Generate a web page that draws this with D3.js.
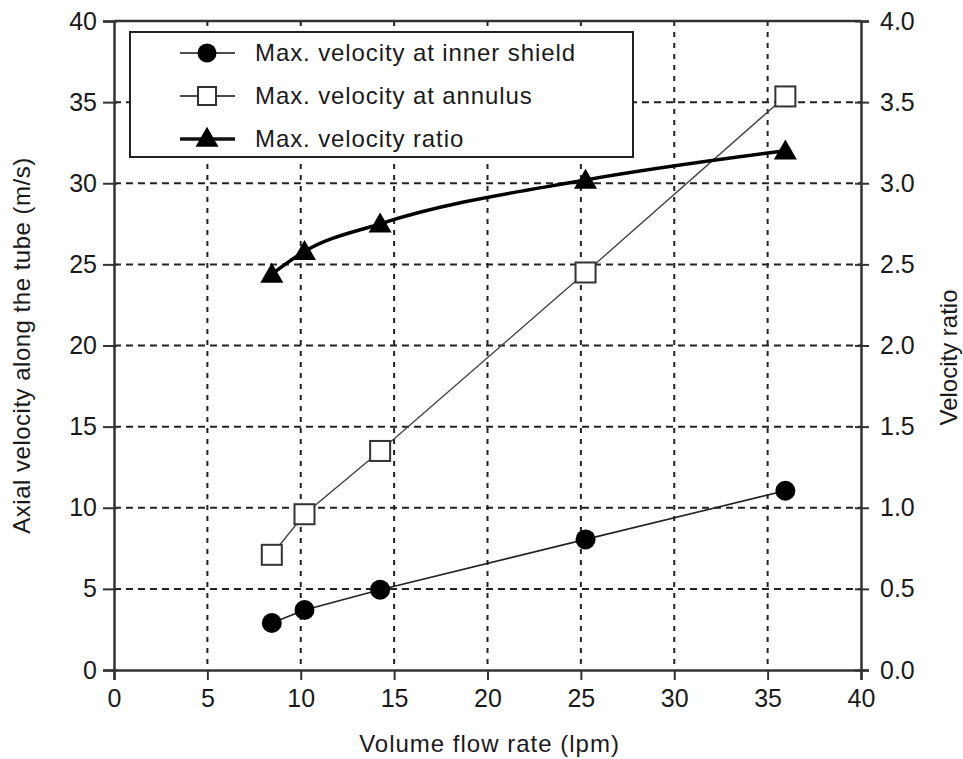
<!DOCTYPE html>
<html>
<head>
<meta charset="utf-8">
<script src="https://cdn.jsdelivr.net/npm/d3@7"></script>
<style>
  body { margin: 0; background: #fff; }
  text { font-family: 'Liberation Sans', Arial, sans-serif; fill: #1a1a1a; }
</style>
</head>
<body>
<svg id="chart" width="963" height="759"></svg>
<script>
const flowRate = [8.45, 10.2, 14.25, 25.25, 35.95]
const innerShield = [2.9, 3.7, 4.95, 8.05, 11.05]
const annulus = [7.1, 9.6, 13.5, 24.5, 35.35]
const ratio = [2.44, 2.58, 2.75, 3.02, 3.2]
const xTicks = [0, 5, 10, 15, 20, 25, 30, 35, 40]
const yTicks = [0, 5, 10, 15, 20, 25, 30, 35, 40]
const y2Ticks = [0, 0.5, 1.0, 1.5, 2.0, 2.5, 3.0, 3.5, 4.0]
const legendLabels = ['Max. velocity at inner shield', 'Max. velocity at annulus', 'Max. velocity ratio']

const margin = { left: 114, right: 102, top: 21, bottom: 89 }
const svg = d3.select('#chart')
const width = +svg.attr('width')
const height = +svg.attr('height')
const innerWidth = width - margin.left - margin.right
const innerHeight = height - margin.top - margin.bottom

const g = svg.append('g')
  .attr('transform', `translate(${margin.left},${margin.top})`)

const x = d3.scaleLinear().domain([0, 40]).range([0, innerWidth])
const y = d3.scaleLinear().domain([0, 40]).range([innerHeight, 0])
const y2 = d3.scaleLinear().domain([0, 4]).range([innerHeight, 0])

// grid
g.selectAll('.hgrid').data(yTicks.slice(1, -1))
  .enter().append('line')
  .attr('x1', 0).attr('x2', innerWidth)
  .attr('y1', d => y(d)).attr('y2', d => y(d))
  .attr('stroke', '#222').attr('stroke-width', 2)
  .attr('stroke-dasharray', '7,5')
g.selectAll('.vgrid').data(xTicks.slice(1, -1))
  .enter().append('line')
  .attr('x1', d => x(d)).attr('x2', d => x(d))
  .attr('y1', 0).attr('y2', innerHeight)
  .attr('stroke', '#222').attr('stroke-width', 2)
  .attr('stroke-dasharray', '5,6')

// axes
const fmt2 = d3.format('.1f')
const xAxisG = g.append('g')
  .attr('transform', `translate(0,${innerHeight})`)
  .call(d3.axisBottom(x).tickValues(xTicks).tickSize(10).tickPadding(9))
const yAxisG = g.append('g')
  .call(d3.axisLeft(y).tickValues(yTicks).tickSize(11).tickPadding(6))
const y2AxisG = g.append('g')
  .attr('transform', `translate(${innerWidth},0)`)
  .call(d3.axisRight(y2).tickValues(y2Ticks).tickFormat(fmt2).tickSize(8).tickPadding(11))

for (const a of [xAxisG, yAxisG, y2AxisG]) {
  a.attr('font-size', null).attr('font-family', null)
  a.select('.domain').attr('stroke', '#333').attr('stroke-width', 2.5)
  a.selectAll('.tick line').attr('stroke', '#333').attr('stroke-width', 2)
  a.selectAll('.tick text').style('font-size', '25px').attr('fill', '#1a1a1a')
}
// ticks cross the axis lines a little
yAxisG.selectAll('.tick line').attr('x2', -11).attr('x1', 3)
y2AxisG.selectAll('.tick line').attr('x1', -6)

// top border
g.append('line')
  .attr('x1', 0).attr('x2', innerWidth)
  .attr('y1', 0).attr('y2', 0)
  .attr('stroke', '#333').attr('stroke-width', 2.5)

// axis labels
svg.append('text')
  .attr('x', margin.left + innerWidth / 2 + 2)
  .attr('y', 752)
  .attr('text-anchor', 'middle')
  .style('font-size', '24px')
  .style('letter-spacing', '1px')
  .text('Volume flow rate (lpm)')
svg.append('text')
  .attr('transform', `translate(30,${margin.top + innerHeight / 2}) rotate(-90)`)
  .attr('text-anchor', 'middle')
  .style('font-size', '24px')
  .style('letter-spacing', '0.5px')
  .text('Axial velocity along the tube (m/s)')
svg.append('text')
  .attr('transform', `translate(957,${margin.top + innerHeight / 2 + 12}) rotate(-90)`)
  .attr('text-anchor', 'middle')
  .style('font-size', '24px')
  .text('Velocity ratio')

// series
const lineY = d3.line().x((d, i) => x(flowRate[i])).y(d => y(d))
const lineY2 = d3.line().x((d, i) => x(flowRate[i])).y(d => y2(d)).curve(d3.curveMonotoneX)

g.append('path').datum(innerShield)
  .attr('d', lineY).attr('fill', 'none')
  .attr('stroke', '#222').attr('stroke-width', 1.6)
g.append('path').datum(annulus)
  .attr('d', lineY).attr('fill', 'none')
  .attr('stroke', '#444').attr('stroke-width', 1.4)
g.append('path').datum(ratio)
  .attr('d', lineY2).attr('fill', 'none')
  .attr('stroke', '#000').attr('stroke-width', 3.5)

const tri = d3.symbol().type(d3.symbolTriangle).size(230)

g.selectAll('.dot').data(innerShield)
  .enter().append('circle')
  .attr('cx', (d, i) => x(flowRate[i]))
  .attr('cy', d => y(d))
  .attr('r', 10)
  .attr('fill', '#000')
g.selectAll('.sq').data(annulus)
  .enter().append('rect')
  .attr('x', (d, i) => x(flowRate[i]) - 10)
  .attr('y', d => y(d) - 10)
  .attr('width', 20).attr('height', 20)
  .attr('fill', '#fff').attr('stroke', '#333').attr('stroke-width', 2)
g.selectAll('.tri').data(ratio)
  .enter().append('path')
  .attr('d', tri)
  .attr('transform', (d, i) => `translate(${x(flowRate[i])},${y2(d) + 2})`)
  .attr('fill', '#000')

// legend
const legend = svg.append('g').attr('transform', 'translate(130,32)')
legend.append('rect')
  .attr('width', 503).attr('height', 125)
  .attr('fill', '#fff').attr('stroke', '#222').attr('stroke-width', 2)
const rows = legend.selectAll('.row').data(legendLabels)
  .enter().append('g')
  .attr('transform', (d, i) => `translate(0,${21 + i * 43})`)
rows.append('line')
  .attr('x1', 50).attr('x2', 105)
  .attr('stroke', '#111')
  .attr('stroke-width', (d, i) => i === 2 ? 3.5 : 1.6)
rows.filter((d, i) => i === 0).append('circle')
  .attr('cx', 77).attr('r', 9.5).attr('fill', '#000')
rows.filter((d, i) => i === 1).append('rect')
  .attr('x', 68).attr('y', -9).attr('width', 18).attr('height', 18)
  .attr('fill', '#fff').attr('stroke', '#333').attr('stroke-width', 2)
rows.filter((d, i) => i === 2).append('path')
  .attr('d', tri).attr('transform', 'translate(77,1)').attr('fill', '#000')
rows.append('text')
  .attr('x', 125).attr('y', 8)
  .style('font-size', '24px')
  .style('letter-spacing', '0.9px')
  .text(d => d)
</script>
</body>
</html>
